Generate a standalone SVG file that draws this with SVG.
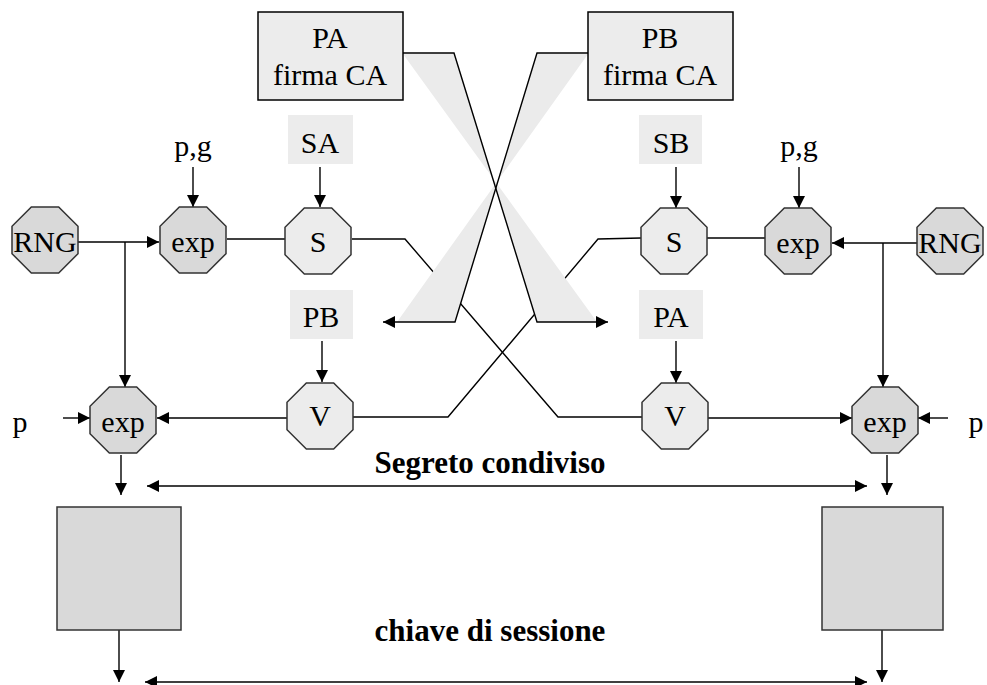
<svg xmlns="http://www.w3.org/2000/svg" xmlns:xlink="http://www.w3.org/1999/xlink" width="987" height="685" viewBox="0 0 987 685">
  <style>
    text { font-family: "Liberation Serif", "Times New Roman", serif; font-size: 30px; fill: #000; text-anchor: middle; }
    .bold { font-weight: bold; font-size: 31px; }
    .line { fill: none; stroke: #000; stroke-width: 1.4; }
    .arrow { marker-end: url(#ah); }
    .both { marker-start: url(#ah); marker-end: url(#ah); }
    .dark { fill: #d9d9d9; stroke: #333; stroke-width: 1.5; }
    .light { fill: #ececec; stroke: #333; stroke-width: 1.5; }
    .cert { fill: #ececec; stroke: #000; stroke-width: 1.5; }
    .tag { fill: #ececec; stroke: none; }
    .wedge { fill: #ebebeb; stroke: none; }
  </style>
  <defs>
    <marker id="ah" markerWidth="12" markerHeight="12" refX="12" refY="6" orient="auto-start-reverse" markerUnits="userSpaceOnUse">
      <path d="M0,0 L12,6 L0,12 z" fill="#000"/>
    </marker>
    <!-- regular octagon, 66 px across the flats -->
    <polygon id="oct" points="-13.67,-33 13.67,-33 33,-13.67 33,13.67 13.67,33 -13.67,33 -33,13.67 -33,-13.67"/>
  </defs>

  <rect width="987" height="685" fill="#fff"/>

  <!-- signature outputs crossing to the verifiers (under the shading) -->
  <g id="connectors-under">
    <polyline class="line" points="352,239 405,239 558,417 642,417"/>
    <polyline class="line" points="641,238 598,239 448,417 353,417"/>
  </g>

  <!-- shaded certificate fans -->
  <g id="fans">
    <polygon class="wedge" points="403,54 454,53 537,322 597,322"/>
    <polygon class="wedge" points="588,54 537,53 455,322 397,322"/>
  </g>

  <g id="connectors">
    <!-- certificates -->
    <polyline class="line arrow" points="403,53 454,53 537,322 608,322"/>
    <polyline class="line arrow" points="588,53 537,53 455,322 383,322"/>
    <!-- parameters and keys -->
    <line class="line arrow" x1="193" y1="167" x2="193" y2="207"/>
    <line class="line arrow" x1="320" y1="167" x2="320" y2="207"/>
    <line class="line arrow" x1="676" y1="167" x2="676" y2="208"/>
    <line class="line arrow" x1="799" y1="167" x2="799" y2="208"/>
    <!-- random numbers -->
    <line class="line arrow" x1="78" y1="242" x2="159" y2="242"/>
    <line class="line arrow" x1="125" y1="242" x2="125" y2="387"/>
    <line class="line arrow" x1="917" y1="243" x2="832" y2="243"/>
    <line class="line arrow" x1="883" y1="243" x2="883" y2="387"/>
    <!-- exp to sign -->
    <line class="line" x1="227" y1="239" x2="285" y2="239"/>
    <line class="line" x1="707" y1="238" x2="765" y2="238"/>
    <!-- public keys to verify -->
    <line class="line arrow" x1="322" y1="341" x2="322" y2="382"/>
    <line class="line arrow" x1="676" y1="341" x2="676" y2="383"/>
    <!-- verify to exp -->
    <line class="line arrow" x1="287" y1="418" x2="157" y2="418"/>
    <line class="line arrow" x1="708" y1="418" x2="852" y2="418"/>
    <line class="line arrow" x1="63" y1="418" x2="90" y2="418"/>
    <line class="line arrow" x1="948" y1="418" x2="918" y2="418"/>
    <!-- shared secret -->
    <line class="line arrow" x1="121" y1="455" x2="121" y2="495"/>
    <line class="line arrow" x1="887" y1="455" x2="887" y2="495"/>
    <line class="line both" x1="147" y1="486" x2="867" y2="486"/>
    <!-- session key -->
    <line class="line arrow" x1="119" y1="630" x2="119" y2="682"/>
    <line class="line arrow" x1="882" y1="630" x2="882" y2="682"/>
    <line class="line both" x1="145" y1="682" x2="867" y2="682"/>
  </g>

  <!-- certificates -->
  <g id="certA">
    <rect class="cert" x="258" y="12" width="145" height="88"/>
    <text x="330" y="48">PA</text>
    <text x="330" y="85">firma CA</text>
  </g>
  <g id="certB">
    <rect class="cert" x="588" y="12" width="145" height="88"/>
    <text x="660" y="48">PB</text>
    <text x="660" y="85">firma CA</text>
  </g>

  <!-- input labels -->
  <g id="pgA"><text x="193" y="156">p,g</text></g>
  <g id="pgB"><text x="799" y="156">p,g</text></g>
  <g id="SA"><rect class="tag" x="288" y="115" width="65" height="49"/><text x="320" y="153">SA</text></g>
  <g id="SB"><rect class="tag" x="639" y="115" width="63" height="49"/><text x="671" y="153">SB</text></g>
  <g id="PBin"><rect class="tag" x="290" y="290" width="63" height="49"/><text x="321" y="327">PB</text></g>
  <g id="PAin"><rect class="tag" x="639" y="290" width="64" height="49"/><text x="671" y="327">PA</text></g>
  <g id="pA"><text x="20" y="432">p</text></g>
  <g id="pB"><text x="976" y="432">p</text></g>

  <!-- side A -->
  <g id="rngA"><use xlink:href="#oct" class="dark" x="45" y="240"/><text x="45" y="252">RNG</text></g>
  <g id="expA1"><use xlink:href="#oct" class="dark" x="193" y="240"/><text x="193" y="252">exp</text></g>
  <g id="signA"><use xlink:href="#oct" class="light" x="318" y="241"/><text x="318" y="252">S</text></g>
  <g id="verA"><use xlink:href="#oct" class="light" x="320" y="416"/><text x="320" y="426">V</text></g>
  <g id="expA2"><use xlink:href="#oct" class="dark" x="123" y="420"/><text x="123" y="432">exp</text></g>
  <g id="kdfA"><rect class="dark" x="57" y="507" width="124" height="123"/></g>

  <!-- side B -->
  <g id="rngB"><use xlink:href="#oct" class="dark" x="950" y="241"/><text x="950" y="253">RNG</text></g>
  <g id="expB1"><use xlink:href="#oct" class="dark" x="798" y="241"/><text x="798" y="253">exp</text></g>
  <g id="signB"><use xlink:href="#oct" class="light" x="674" y="241"/><text x="674" y="252">S</text></g>
  <g id="verB"><use xlink:href="#oct" class="light" x="675" y="416"/><text x="675" y="426">V</text></g>
  <g id="expB2"><use xlink:href="#oct" class="dark" x="885" y="420"/><text x="885" y="432">exp</text></g>
  <g id="kdfB"><rect class="dark" x="822" y="507" width="121" height="123"/></g>

  <g id="labels">
    <text class="bold" x="490" y="473">Segreto condiviso</text>
    <text class="bold" x="490" y="641">chiave di sessione</text>
  </g>
</svg>
